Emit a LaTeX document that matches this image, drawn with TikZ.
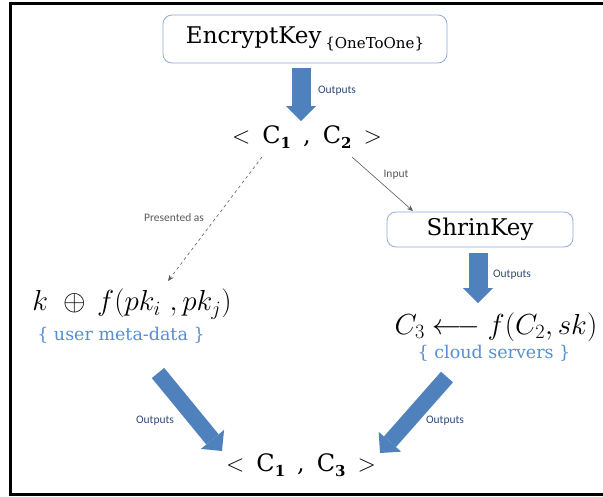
\RequirePackage{fix-cm}
\documentclass[tikz,border=0pt]{standalone}
\usepackage{amsmath,amssymb}
\usepackage{fontspec}
\newfontfamily\lblfont{Carlito}
\newfontfamily\boxfont{DejaVu Serif}
\usetikzlibrary{arrows.meta,positioning}
\definecolor{arrowblue}{HTML}{4F81BD}
\definecolor{boxline}{HTML}{8FAADC}
\definecolor{lbltext}{HTML}{2E4A7D}
\definecolor{lblgray}{HTML}{595959}
\definecolor{metablue}{HTML}{558ED5}
\newcommand{\subnum}[1]{\raisebox{-5pt}{\fontsize{15}{15}\selectfont\bfseries #1}}

\begin{document}
\begin{tikzpicture}[x=1pt,y=-1pt,
	keybox/.style={draw=boxline,line width=0.8pt,rounded corners=9pt,inner sep=0pt,font=\boxfont},
	bigarrow/.style={draw=arrowblue,line width=19pt,-{Triangle[width=30pt,length=15pt,line width=0pt,fill=arrowblue]}},
	thinarrow/.style={draw=lblgray,line width=0.6pt,-{Stealth[length=6pt,width=5pt]}},
	lbl/.style={font=\lblfont\fontsize{11.5}{13}\selectfont,text=lbltext},
	graylbl/.style={font=\lblfont\fontsize{11.5}{13}\selectfont,text=lblgray},
	formula/.style={font=\fontsize{29}{32}\selectfont,inner sep=0pt},
	pair/.style={font=\boxfont\fontsize{24}{28}\selectfont,inner sep=0pt},
	meta/.style={font=\boxfont\fontsize{17.5}{20}\selectfont,text=metablue,inner sep=0pt}]
	\useasboundingbox (0,0) rectangle (603,496);
	\draw[line width=3pt] (603,3) -- (10,3) -- (10,494) -- (603,494);
	% boxes and formulas
	\node[keybox,minimum width=284pt,minimum height=48pt] (enc) at (305,39)
		{\fontsize{23}{28}\selectfont EncryptKey\,\raisebox{-5pt}{\fontsize{15}{18}\selectfont\{OneToOne\}}};
	\node[pair] (c12) at (307,137) {$<$\enspace C\subnum{1}\enspace,\enspace C\subnum{2}\enspace$>$};
	\node[keybox,minimum width=186pt,minimum height=35pt] (shrink) at (480,229.5)
		{\fontsize{23}{28}\selectfont ShrinKey};
	\node[formula] (kf) at (132,304) {$k\ \oplus\, f(pk_i\ ,pk_j)$};
	\node[meta] (user) at (121,335) {\{ user meta-data \}};
	\node[formula] (c3) at (496,327) {$C_3 \longleftarrow f(C_2,sk)$};
	\node[meta] (cloud) at (494,353) {\{ cloud servers \}};
	\node[pair] (c13) at (301,465) {$<$\enspace C\subnum{1}\enspace,\enspace C\subnum{3}\enspace$>$};
	% arrow ends
	\coordinate (enc_out) at (301,68);
	\coordinate (c12_in) at (301,121);
	\coordinate (c12_l) at (262,157);
	\coordinate (kf_in) at (168,281);
	\coordinate (c12_r) at (352,157);
	\coordinate (shrink_in) at (413,211);
	\coordinate (shrink_out) at (478,253);
	\coordinate (c3_in) at (478,303);
	\coordinate (user_out) at (158,373);
	\coordinate (c13_l) at (222,451);
	\coordinate (cloud_out) at (447,377);
	\coordinate (c13_r) at (380,453);
	% connectors
	\draw[bigarrow] (enc_out) -- (c12_in);
	\draw[bigarrow] (shrink_out) -- (c3_in);
	\draw[bigarrow,line width=16pt] (user_out) -- (c13_l);
	\draw[bigarrow,line width=16pt] (cloud_out) -- (c13_r);
	\draw[thinarrow,dashed] (c12_l) -- (kf_in);
	\draw[thinarrow] (c12_r) -- (shrink_in);
	% labels
	\node[lbl] (out_a) at (337,91) {Outputs};
	\node[lbl] (out_b) at (512,275) {Outputs};
	\node[lbl] (out_c) at (155,421) {Outputs};
	\node[lbl] (out_d) at (445,421) {Outputs};
	\node[graylbl] (pres) at (174,218) {Presented as};
	\node[graylbl] (inp) at (396,175) {Input};
\end{tikzpicture}
\end{document}
